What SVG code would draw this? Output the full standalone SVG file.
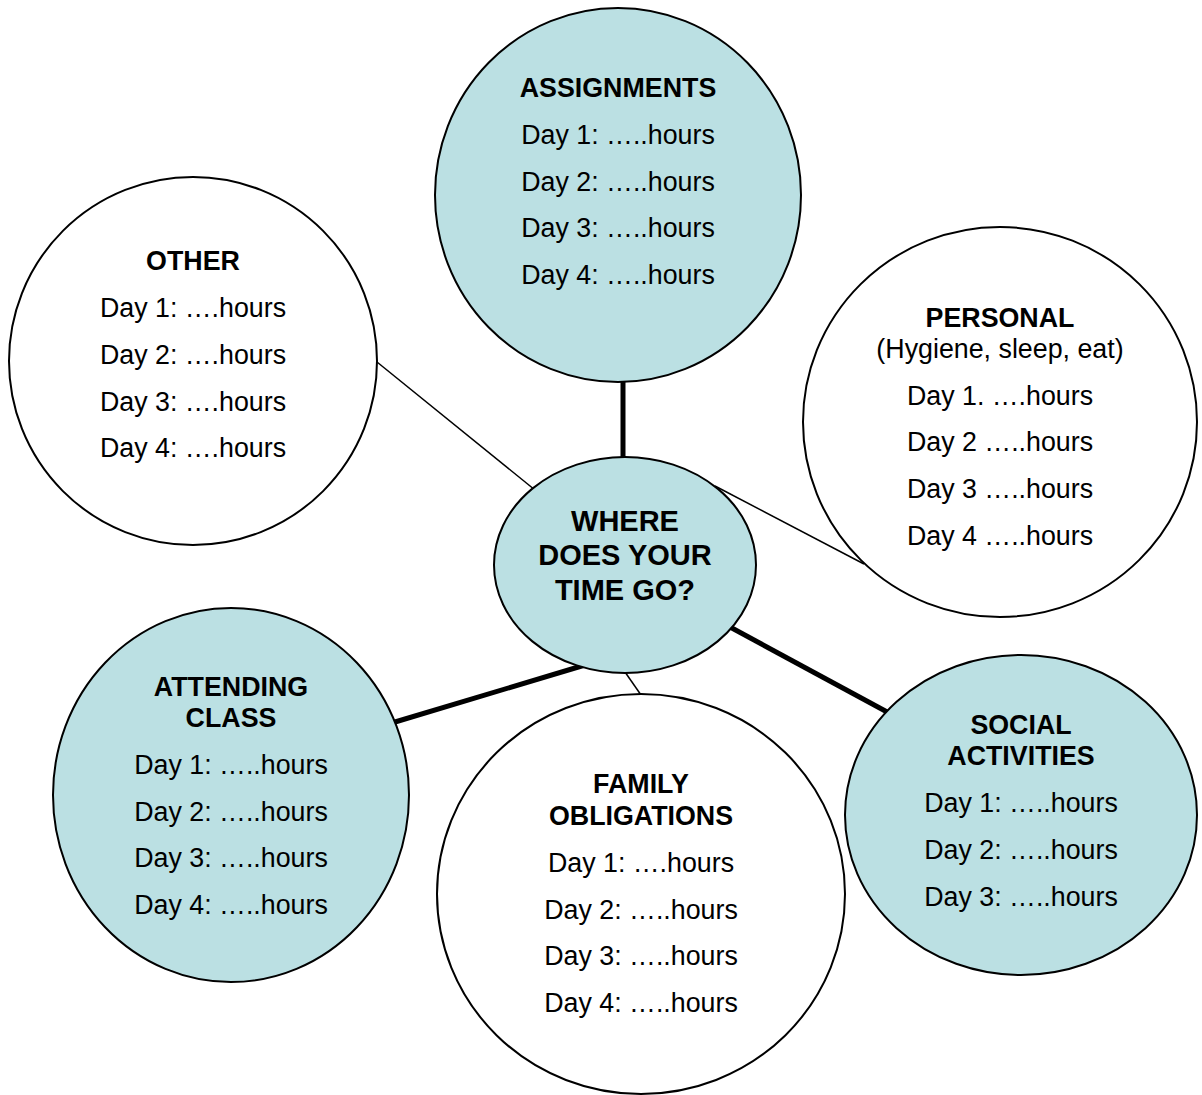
<svg xmlns="http://www.w3.org/2000/svg" width="1202" height="1095" viewBox="0 0 1202 1095">
<style>
.n{stroke:#000;stroke-width:2}
.b{fill:#BBE0E3}
.w{fill:#fff}
text{font-family:"Liberation Sans",Arial,sans-serif;font-size:26.8px;text-anchor:middle;fill:#000}
.h{font-weight:bold}
.c{font-size:29px;font-weight:bold}
.thick{stroke:#000;stroke-width:5;fill:none}
.thin{stroke:#000;stroke-width:1.5;fill:none}
</style>
<rect width="1202" height="1095" fill="#fff"/>
<g id="connectors">
<line class="thick" x1="623" y1="380" x2="623" y2="460"/>
<line class="thin" x1="377" y1="362" x2="535" y2="490"/>
<line class="thin" x1="715" y1="486" x2="864" y2="564"/>
<line class="thick" x1="585" y1="665" x2="395" y2="722"/>
<line class="thin" x1="625" y1="672" x2="641" y2="695"/>
<line class="thick" x1="730" y1="627" x2="889" y2="713"/>
</g>
<g id="assignments">
<ellipse class="n b" cx="618" cy="195" rx="183" ry="187"/>
<text x="618" y="97" class="h">ASSIGNMENTS</text>
<text x="618" y="144">Day 1: …..hours</text>
<text x="618" y="191">Day 2: …..hours</text>
<text x="618" y="237">Day 3: …..hours</text>
<text x="618" y="284">Day 4: …..hours</text>
</g>
<g id="other">
<ellipse class="n w" cx="193" cy="361" rx="184" ry="184"/>
<text x="193" y="270" class="h">OTHER</text>
<text x="193" y="317">Day 1: ….hours</text>
<text x="193" y="364">Day 2: ….hours</text>
<text x="193" y="411">Day 3: ….hours</text>
<text x="193" y="457">Day 4: ….hours</text>
</g>
<g id="personal">
<ellipse class="n w" cx="1000" cy="422" rx="197" ry="195"/>
<text x="1000" y="327" class="h">PERSONAL</text>
<text x="1000" y="358">(Hygiene, sleep, eat)</text>
<text x="1000" y="405">Day 1. ….hours</text>
<text x="1000" y="451">Day 2 …..hours</text>
<text x="1000" y="498">Day 3 …..hours</text>
<text x="1000" y="545">Day 4 …..hours</text>
</g>
<g id="center">
<ellipse class="n b" cx="625" cy="565" rx="131" ry="108"/>
<text x="625" y="531" class="c">WHERE</text>
<text x="625" y="565" class="c">DOES YOUR</text>
<text x="625" y="600" class="c">TIME GO?</text>
</g>
<g id="attending">
<ellipse class="n b" cx="231" cy="795" rx="178" ry="187"/>
<text x="231" y="696" class="h">ATTENDING</text>
<text x="231" y="727" class="h">CLASS</text>
<text x="231" y="774">Day 1: …..hours</text>
<text x="231" y="821">Day 2: …..hours</text>
<text x="231" y="867">Day 3: …..hours</text>
<text x="231" y="914">Day 4: …..hours</text>
</g>
<g id="family">
<ellipse class="n w" cx="641" cy="894" rx="204" ry="200"/>
<text x="641" y="793" class="h">FAMILY</text>
<text x="641" y="825" class="h">OBLIGATIONS</text>
<text x="641" y="872">Day 1: ….hours</text>
<text x="641" y="919">Day 2: …..hours</text>
<text x="641" y="965">Day 3: …..hours</text>
<text x="641" y="1012">Day 4: …..hours</text>
</g>
<g id="social">
<ellipse class="n b" cx="1021" cy="815" rx="176" ry="160"/>
<text x="1021" y="734" class="h">SOCIAL</text>
<text x="1021" y="765" class="h">ACTIVITIES</text>
<text x="1021" y="812">Day 1: …..hours</text>
<text x="1021" y="859">Day 2: …..hours</text>
<text x="1021" y="906">Day 3: …..hours</text>
</g>
</svg>
